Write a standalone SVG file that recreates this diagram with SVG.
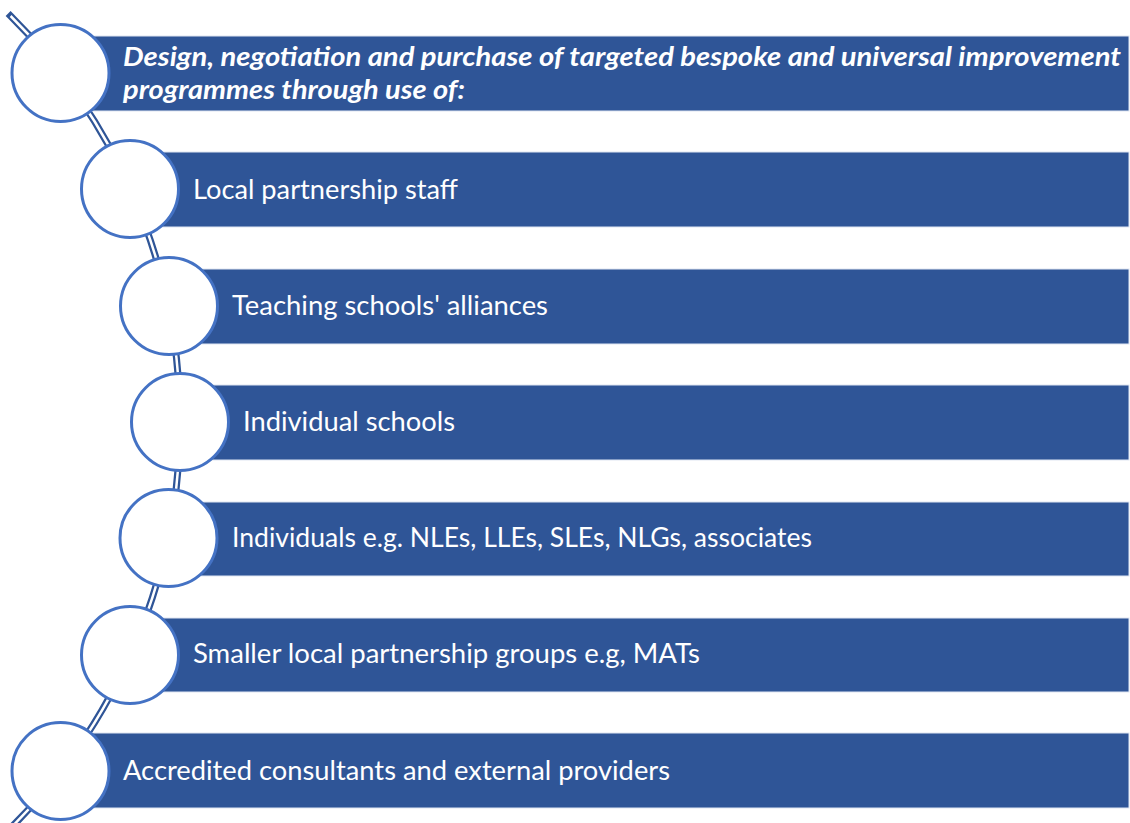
<svg xmlns="http://www.w3.org/2000/svg" width="1130" height="823" viewBox="0 0 1130 823">
<style>
.bar{fill:#2F5597;stroke:#dfe6f2;stroke-width:1}
.dot{fill:#ffffff;stroke:#4472C4;stroke-width:3}
.t{fill:#ffffff;font-family:Lato,"Open Sans","Liberation Sans",sans-serif;font-size:27px}
.h{fill:#ffffff;font-family:Lato,"Open Sans","Liberation Sans",sans-serif;font-size:26px;font-weight:bold;font-style:italic}
</style>
<g id="connectors">
<path d="M 10.6,16 A 571.3 571.3 0 0 1 10.6,828" fill="none" stroke="#2F5597" stroke-width="7" stroke-linecap="square"/>
<path d="M 10.6,16 A 571.3 571.3 0 0 1 10.6,828" fill="none" stroke="#ffffff" stroke-width="2.5"/>
</g>
<g id="node1">
<rect class="bar" x="61" y="36" width="1068" height="75"/>
<circle class="dot" cx="60.5" cy="73" r="48.5"/>
<text class="h" x="123" y="66" textLength="998" lengthAdjust="spacingAndGlyphs">Design, negotiation and purchase of targeted bespoke and universal improvement</text>
<text class="h" x="123" y="99" textLength="342" lengthAdjust="spacingAndGlyphs">programmes through use of:</text>
</g>
<g id="node2">
<rect class="bar" x="130" y="152" width="999" height="75"/>
<circle class="dot" cx="130" cy="189" r="48.5"/>
<text class="t" x="193" y="199" textLength="265" lengthAdjust="spacingAndGlyphs">Local partnership staff</text>
</g>
<g id="node3">
<rect class="bar" x="169" y="269" width="960" height="75"/>
<circle class="dot" cx="169" cy="306" r="48.5"/>
<text class="t" x="232" y="315" textLength="316" lengthAdjust="spacingAndGlyphs">Teaching schools' alliances</text>
</g>
<g id="node4">
<rect class="bar" x="180" y="385" width="949" height="75"/>
<circle class="dot" cx="180" cy="422" r="48.5"/>
<text class="t" x="243" y="431" textLength="212" lengthAdjust="spacingAndGlyphs">Individual schools</text>
</g>
<g id="node5">
<rect class="bar" x="169" y="502" width="960" height="74"/>
<circle class="dot" cx="168.5" cy="538" r="48.5"/>
<text class="t" x="232" y="547" textLength="580" lengthAdjust="spacingAndGlyphs">Individuals e.g. NLEs, LLEs, SLEs, NLGs, associates</text>
</g>
<g id="node6">
<rect class="bar" x="130" y="618" width="999" height="74"/>
<circle class="dot" cx="130" cy="655" r="48.5"/>
<text class="t" x="193" y="663" textLength="507" lengthAdjust="spacingAndGlyphs">Smaller local partnership groups e.g, MATs</text>
</g>
<g id="node7">
<rect class="bar" x="61" y="733" width="1068" height="75"/>
<circle class="dot" cx="60.5" cy="771" r="48.5"/>
<text class="t" x="123" y="780" textLength="547" lengthAdjust="spacingAndGlyphs">Accredited consultants and external providers</text>
</g>
</svg>
